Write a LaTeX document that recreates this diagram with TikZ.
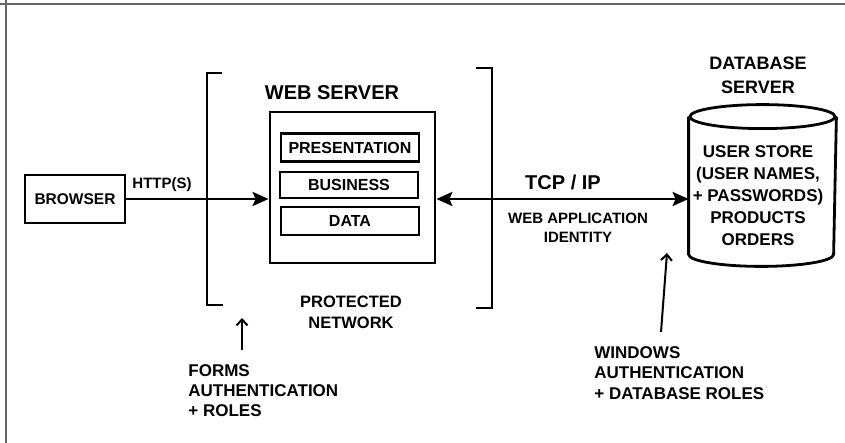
\documentclass[tikz,border=0pt]{standalone}
\usepackage{fontspec}
\setmainfont{Liberation Sans}
\usetikzlibrary{arrows.meta}

\begin{document}
\begin{tikzpicture}[x=1pt,y=-1pt,line width=2.8pt,
  box/.style={draw,rectangle,inner sep=0pt},
  layer/.style={box,line width=2.3pt,minimum width=138pt,minimum height=28pt,font=\bfseries\fontsize{16}{18}\selectfont},
  lbl/.style={inner sep=0pt,font=\bfseries\fontsize{17}{21}\selectfont},
  bigarrow/.style={-{Stealth[length=16pt,width=14pt,inset=3pt]}},
  dblarrow/.style={{Stealth[length=16pt,width=14pt,inset=3pt]}-{Stealth[length=16pt,width=14pt,inset=3pt]}},
  thinarrow/.style={line width=2pt,-{Straight Barb[length=6pt,width=11pt]}}]
\useasboundingbox (0,0) rectangle (845,443);
% frame
\draw[black!60,line width=2.5pt] (0,4) -- (845,4) (6,0) -- (6,443);

\node[box,minimum width=100pt,minimum height=48pt,font=\bfseries\fontsize{15.5}{18}\selectfont] (browser) at (75,199) {BROWSER};
\node[lbl,font=\bfseries\fontsize{15}{18}\selectfont] (http) at (162,185) {HTTP(S)};

% web server
\node[lbl,font=\bfseries\fontsize{20}{22}\selectfont] (wslbl) at (332,93) {WEB SERVER};
\node[box,minimum width=165pt,minimum height=151pt] (websrv) at (352.5,187.5) {};
\node[layer] (pres) at (350,147.5) {PRESENTATION};
\node[layer,minimum height=26pt] (bus) at (349,185) {BUSINESS};
\node[layer] (data) at (350,221) {DATA};

% protected network
\draw (222,73) -- (207,73) -- (207,305) -- (223,305);
\draw (476,68) -- (492,68) -- (492,308) -- (476,308);
\node[lbl,align=center,font=\bfseries\fontsize{16.5}{21}\selectfont] (protlbl) at (351,312) {PROTECTED\\NETWORK};

% database
\node[lbl,align=center,font=\bfseries\fontsize{18}{24}\selectfont] (dblbl) at (758,75) {DATABASE\\SERVER};
\node[minimum width=145pt,minimum height=135pt,inner sep=0pt] (db) at (762.5,185.5) {};
\draw (db.north west) -- (db.south west) arc[start angle=180,end angle=360,x radius=72.5pt,y radius=12pt] -- (db.north east);
\draw (db.north) ellipse[x radius=72.5pt,y radius=12pt];
\node[lbl,align=center,font=\bfseries\fontsize{17}{22}\selectfont] (dbtext) at (758,196) {USER STORE\\(USER NAMES,\\+ PASSWORDS)\\PRODUCTS\\ORDERS};

\draw[bigarrow] (browser.east) -- (browser.east -| websrv.west);
\draw[dblarrow] (websrv.east |- browser.east) -- (browser.east -| db.west);
\node[lbl,font=\bfseries\fontsize{20}{22}\selectfont] (tcp) at (563,182) {TCP / IP};
\node[lbl,align=center,font=\bfseries\fontsize{15}{19}\selectfont] (appid) at (578,228) {WEB APPLICATION\\IDENTITY};

% authentication notes
\node[lbl,align=left,anchor=north west,font=\bfseries\fontsize{17}{20}\selectfont] (forms) at (187,363) {FORMS\\AUTHENTICATION\\+ ROLES};
\coordinate (formfoot) at (242,350);
\coordinate (formtip) at (242,318);
\draw[thinarrow] (formfoot) -- (formtip);

\node[lbl,align=left,anchor=north west,font=\bfseries\fontsize{17}{20.5}\selectfont] (winlbl) at (593,345) {WINDOWS\\AUTHENTICATION\\+ DATABASE ROLES};
\coordinate (winfoot) at (661,332);
\coordinate (wintip) at (667,253);
\draw[thinarrow] (winfoot) -- (wintip);
\end{tikzpicture}
\end{document}
